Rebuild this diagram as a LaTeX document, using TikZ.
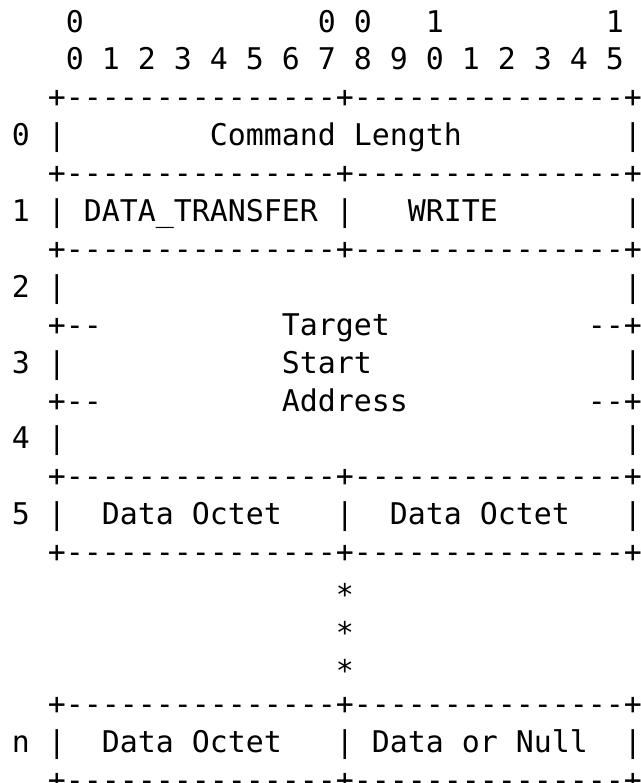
\documentclass[tikz,border=0pt]{standalone}
\usepackage{fontspec}
\newfontfamily\asciimono{DejaVu Sans Mono}
\tikzset{
  asciirow/.style={anchor=base west, inner sep=0pt, outer sep=0pt, text=black,
    font=\asciimono\fontsize{22.42}{38}\selectfont},
}
\newcommand{\rowy}[1]{32+37.9*#1}
\begin{document}
\begin{tikzpicture}[x=0.75pt, y=-0.75pt]
  \useasboundingbox[fill=white] (0,0) rectangle (640,783);
  \clip (0,0) rectangle (640,783);
  \node[asciirow] (l0)  at (12,{\rowy{0}})  {~~~0~~~~~~~~~~~~~0~0~~~1~~~~~~~~~1};
  \node[asciirow] (l1)  at (12,{\rowy{1}})  {~~~0~1~2~3~4~5~6~7~8~9~0~1~2~3~4~5};
  \node[asciirow] (l2)  at (12,{\rowy{2}})  {~~+{-}{-}{-}{-}{-}{-}{-}{-}{-}{-}{-}{-}{-}{-}{-}+{-}{-}{-}{-}{-}{-}{-}{-}{-}{-}{-}{-}{-}{-}{-}+};
  \node[asciirow] (l3)  at (12,{\rowy{3}})  {0~|~~~~~~~~Command~Length~~~~~~~~~|};
  \node[asciirow] (l4)  at (12,{\rowy{4}})  {~~+{-}{-}{-}{-}{-}{-}{-}{-}{-}{-}{-}{-}{-}{-}{-}+{-}{-}{-}{-}{-}{-}{-}{-}{-}{-}{-}{-}{-}{-}{-}+};
  \node[asciirow] (l5)  at (12,{\rowy{5}})  {1~|~DATA\_TRANSFER~|~~~WRITE~~~~~~~|};
  \node[asciirow] (l6)  at (12,{\rowy{6}})  {~~+{-}{-}{-}{-}{-}{-}{-}{-}{-}{-}{-}{-}{-}{-}{-}+{-}{-}{-}{-}{-}{-}{-}{-}{-}{-}{-}{-}{-}{-}{-}+};
  \node[asciirow] (l7)  at (12,{\rowy{7}})  {2~|~~~~~~~~~~~~~~~~~~~~~~~~~~~~~~~|};
  \node[asciirow] (l8)  at (12,{\rowy{8}})  {~~+{-}{-}~~~~~~~~~~Target~~~~~~~~~~~{-}{-}+};
  \node[asciirow] (l9)  at (12,{\rowy{9}})  {3~|~~~~~~~~~~~~Start~~~~~~~~~~~~~~|};
  \node[asciirow] (l10) at (12,{\rowy{10}}) {~~+{-}{-}~~~~~~~~~~Address~~~~~~~~~~{-}{-}+};
  \node[asciirow] (l11) at (12,{\rowy{11}}) {4~|~~~~~~~~~~~~~~~~~~~~~~~~~~~~~~~|};
  \node[asciirow] (l12) at (12,{\rowy{12}}) {~~+{-}{-}{-}{-}{-}{-}{-}{-}{-}{-}{-}{-}{-}{-}{-}+{-}{-}{-}{-}{-}{-}{-}{-}{-}{-}{-}{-}{-}{-}{-}+};
  \node[asciirow] (l13) at (12,{\rowy{13}}) {5~|~~Data~Octet~~~|~~Data~Octet~~~|};
  \node[asciirow] (l14) at (12,{\rowy{14}}) {~~+{-}{-}{-}{-}{-}{-}{-}{-}{-}{-}{-}{-}{-}{-}{-}+{-}{-}{-}{-}{-}{-}{-}{-}{-}{-}{-}{-}{-}{-}{-}+};
  \node[asciirow] (l15) at (12,{\rowy{15}+5}) {~~~~~~~~~~~~~~~~~~*};
  \node[asciirow] (l16) at (12,{\rowy{16}+5}) {~~~~~~~~~~~~~~~~~~*};
  \node[asciirow] (l17) at (12,{\rowy{17}+5}) {~~~~~~~~~~~~~~~~~~*};
  \node[asciirow] (l18) at (12,{\rowy{18}}) {~~+{-}{-}{-}{-}{-}{-}{-}{-}{-}{-}{-}{-}{-}{-}{-}+{-}{-}{-}{-}{-}{-}{-}{-}{-}{-}{-}{-}{-}{-}{-}+};
  \node[asciirow] (l19) at (12,{\rowy{19}}) {n~|~~Data~Octet~~~|~Data~or~Null~~|};
  \node[asciirow] (l20) at (12,{\rowy{20}}) {~~+{-}{-}{-}{-}{-}{-}{-}{-}{-}{-}{-}{-}{-}{-}{-}+{-}{-}{-}{-}{-}{-}{-}{-}{-}{-}{-}{-}{-}{-}{-}+};
\end{tikzpicture}
\end{document}
